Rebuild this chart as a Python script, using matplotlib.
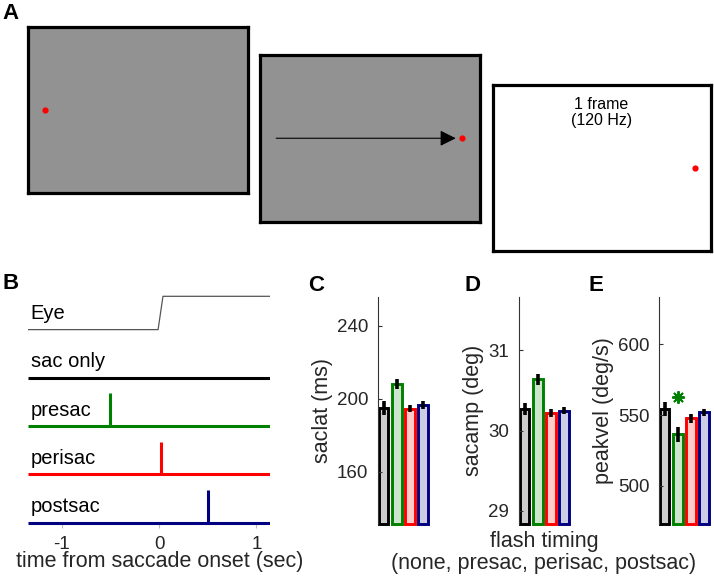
import numpy as np
from matplotlib import pyplot as plt

plt.rcParams['font.family'] = ['Liberation Sans', 'DejaVu Sans']

# ---- data ----
# panel A: three screens (gray fixation, gray saccade target, white flash frame)
screen_faces = ['#929292', '#929292', 'white']
dot_x = [0.08, 0.92, 0.93]
dot_y = [0.5, 0.5, 0.5]
arrow_start = 0.076
arrow_end = 0.892
flash_text = "1 frame\n(120 Hz)"

# panel B: timeline of conditions
row_names = ['Eye', 'sac only', 'presac', 'perisac', 'postsac']
row_colors = ['#555555', 'black', '#008000', '#ff0000', '#000080']
flash_times = [None, None, -0.5, 0.02, 0.5]
t_range = [-1.35, 1.14]
eye_t = [-1.35, -0.01, 0.04, 1.14]
eye_pos = [0.0, 0.0, 0.69, 0.69]
time_ticks = [-1, 0, 1]

# panels C-E: saccade metrics per flash timing
conditions = ['none', 'presac', 'perisac', 'postsac']
edge_colors = ['black', '#008000', '#ff0000', '#000080']
saclat_mean = [194.9, 208.2, 194.7, 196.7]
saclat_err = [3.7, 2.7, 2.0, 2.2]
sacamp_mean = [30.27, 30.64, 30.22, 30.25]
sacamp_err = [0.07, 0.07, 0.045, 0.045]
peakvel_mean = [554.0, 536.4, 547.7, 551.9]
peakvel_err = [5.0, 5.3, 3.0, 2.6]
peakvel_star = 562.5  # significant (presac)

W, H = 714, 577
fig = plt.figure(figsize=(W / 100, H / 100), dpi=100)


def px_axes(left, top, right, bottom):
    """axes placed by pixel box (top-left origin)"""
    return fig.add_axes([left / W, 1 - bottom / H, (right - left) / W, (bottom - top) / H])


# ---- A ----
screen_boxes = [(27.5, 26.5, 247.5, 193), (259.5, 55, 479.5, 221.5), (492.5, 84.5, 710.5, 251)]
for i, box in enumerate(screen_boxes):
    ax = px_axes(*box)
    ax.set_facecolor(screen_faces[i])
    ax.set_xlim(0, 1)
    ax.set_ylim(0, 1)
    ax.set_xticks([])
    ax.set_yticks([])
    for s in ax.spines.values():
        s.set_linewidth(2.3)
    ax.scatter([dot_x[i]], [dot_y[i]], s=12, color='red', zorder=3)
    if i == 1:
        ax.annotate('', xy=(arrow_end, dot_y[i]), xytext=(arrow_start, dot_y[i]),
                    arrowprops=dict(arrowstyle='-|>', lw=0.8, color='black', mutation_scale=24,
                                    shrinkA=0, shrinkB=0))
    if i == 2:
        ax.text(0.5, 0.83, flash_text, ha='center', va='center', fontsize=11.5, linespacing=1.1)

# ---- B ----
axB = px_axes(27.7, 291, 270, 527.5)
nrows = len(row_names)
for k, name in enumerate(row_names):
    row = nrows - 1 - k
    if name == 'Eye':
        axB.plot(eye_t, np.array(eye_pos) + row, color=row_colors[k], lw=0.9)
    else:
        axB.plot(t_range, [row, row], color=row_colors[k], lw=2.2, solid_capstyle='butt')
        if flash_times[k] is not None:
            axB.plot([flash_times[k], flash_times[k]], [row, row + 0.68], color=row_colors[k],
                     lw=2.2, solid_capstyle='butt')
    axB.text(-1.32, row + 0.33, name, va='center', ha='left', fontsize=14.5)
axB.set_xlim(t_range)
axB.set_ylim(-0.1, 4.8)
axB.set_yticks([])
axB.set_xticks(time_ticks)
axB.set_xticklabels(['-1', '0', '1'])
for s in axB.spines.values():
    s.set_visible(False)
axB.tick_params(axis='x', direction='in', length=3, color='#bbbbbb', pad=6, labelsize=13.5,
                labelcolor='#262626')

# ---- C, D, E ----
metric_panels = [
    (378, 430.5, saclat_mean, saclat_err, (131.3, 256), [160, 200, 240], 'saclat (ms)'),
    (519, 571.5, sacamp_mean, sacamp_err, (28.83, 31.67), [29, 30, 31], 'sacamp (deg)'),
    (659, 711.5, peakvel_mean, peakvel_err, (472.7, 633.7), [500, 550, 600], 'peakvel (deg/s)'),
]
x = np.arange(1, len(conditions) + 1)
metric_axes = []
for left, right, mean, err, ylim, yticks, label in metric_panels:
    ax = px_axes(left, 296.7, right, 524.3)
    for j in range(len(conditions)):
        ax.bar(x[j], mean[j] - ylim[0], bottom=ylim[0], width=0.72, color=edge_colors[j],
               alpha=0.2, clip_on=False)
        ax.bar(x[j], mean[j] - ylim[0], bottom=ylim[0], width=0.72, fill=False,
               edgecolor=edge_colors[j], lw=2.1, clip_on=False)
    ax.errorbar(x, mean, yerr=err, fmt='none', ecolor='black', elinewidth=2.6, capsize=0)
    ax.set_xlim(0.57, 4.55)
    ax.set_ylim(ylim)
    ax.set_yticks(yticks)
    ax.set_xticks([])
    for s in ['top', 'right', 'bottom']:
        ax.spines[s].set_visible(False)
    ax.spines['left'].set_color('#333333')
    ax.spines['left'].set_linewidth(0.8)
    ax.tick_params(axis='y', direction='in', length=3, color='#333333', pad=7, labelsize=13.5,
                   labelcolor='#262626')
    ax.set_ylabel(label, fontsize=15.5, color='#262626', labelpad=3)
    metric_axes.append(ax)

# asterisk marking the significant condition
metric_axes[2].plot([x[1]], [peakvel_star], marker=(8, 2, 0), color='#008000', ms=9, mew=1.4,
                    linestyle='none', clip_on=False)

fig.text(159.3 / W, 1 - 562 / H, 'time from saccade onset (sec)', ha='center', va='center',
         fontsize=15.5, color='#262626')
fig.text(544 / W, 1 - 541.7 / H, 'flash timing', ha='center', va='center', fontsize=15.5,
         color='#262626')
fig.text(544 / W, 1 - 563 / H, '(none, presac, perisac, postsac)', ha='center', va='center',
         fontsize=15.5, color='#262626')

# panel letters
for letter, lx, ly in [('A', 2, 13.5), ('B', 2, 283), ('C', 308, 285), ('D', 465, 285), ('E', 588, 285)]:
    fig.text(lx / W, 1 - ly / H, letter, ha='left', va='center', fontsize=16, fontweight='bold')

fig.savefig('out.png', dpi=100)
